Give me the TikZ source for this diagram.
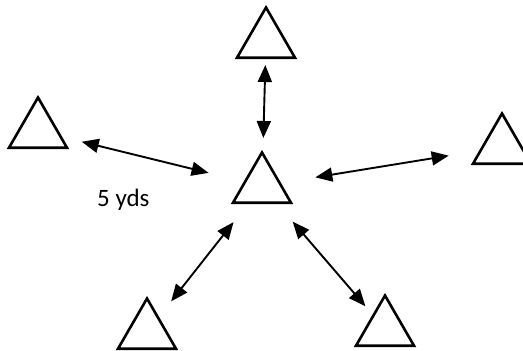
\documentclass[tikz,border=0pt]{standalone}
\usepackage{fontspec}
\setmainfont{Carlito}
\usetikzlibrary{shapes.geometric, arrows.meta}

\tikzset{
    cone/.style={draw, regular polygon, regular polygon sides=3, minimum size=67pt, inner sep=0pt, line width=2.6pt},
    dbl/.style={>={Triangle[length=17pt,width=14pt]}, <->, line width=1.9pt}
}

\begin{document}
\begin{tikzpicture}[x=1pt, y=-1pt]
        \useasboundingbox (0,0) rectangle (523,351);

        \node[cone] (top) at (266, 41) {};
        \node[cone] (left) at (38, 131) {};
        \node[cone] (ctr) at (262, 186) {};
        \node[cone] (right) at (502, 147) {};
        \node[cone] (bl) at (147, 332) {};
        \node[cone] (br) at (385, 329) {};

        \node[anchor=base west, inner sep=0pt, font=\fontsize{25}{29}\selectfont] (dist) at (97, 206) {5 yds};

        \draw[dbl, shorten <=24pt, shorten >=48pt] (top.center) -- (ctr.center);
        \draw[dbl, shorten <=45pt, shorten >=55pt] (left.center) -- (ctr.center);
        \draw[dbl, shorten <=54pt, shorten >=54pt] (ctr.center) -- (right.center);
        \draw[dbl, shorten <=39pt, shorten >=46pt] (bl.center) -- (ctr.center);
        \draw[dbl, shorten <=47pt, shorten >=30pt] (ctr.center) -- (br.center);
    \end{tikzpicture}
\end{document}
